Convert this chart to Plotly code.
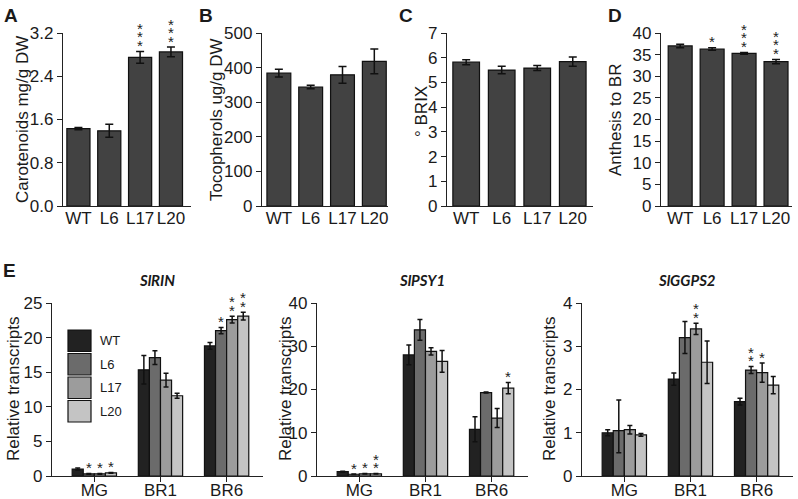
import plotly.graph_objects as go

W, H = 798, 499
FONT = "Liberation Sans, Arial, sans-serif"

lines = ["WT", "L6", "L17", "L20"]
stages = ["MG", "BR1", "BR6"]

# panels A-D (one bar per line)
carotenoids = [1.43, 1.39, 2.75, 2.85]
carotenoids_err = [0.02, 0.12, 0.11, 0.09]
carotenoids_stars = [0, 0, 3, 3]

tocopherols = [384, 344, 379, 418]
tocopherols_err = [11, 5, 24, 36]
tocopherols_stars = [0, 0, 0, 0]

brix = [5.82, 5.50, 5.58, 5.84]
brix_err = [0.10, 0.15, 0.10, 0.19]
brix_stars = [0, 0, 0, 0]

anthesis = [37.0, 36.3, 35.3, 33.4]
anthesis_err = [0.4, 0.3, 0.2, 0.5]
anthesis_stars = [0, 1, 3, 3]

# panel E, one row per line (WT, L6, L17, L20), columns MG, BR1, BR6
rin_vals = [[1.0, 15.35, 18.8], [0.3, 17.1, 21.0], [0.3, 13.85, 22.6], [0.45, 11.6, 23.1]]
rin_err = [[0.15, 2.05, 0.5], [0.05, 1.0, 0.45], [0.05, 1.0, 0.5], [0.05, 0.35, 0.55]]
rin_stars = [[0, 0, 0], [1, 0, 1], [1, 0, 2], [1, 0, 2]]

psy_vals = [[1.0, 28.0, 10.8], [0.4, 33.8, 19.3], [0.5, 28.8, 13.4], [0.5, 26.5, 20.3]]
psy_err = [[0.1, 2.3, 2.9], [0.05, 2.4, 0.1], [0.05, 0.85, 2.2], [0.05, 2.5, 1.3]]
psy_stars = [[0, 0, 0], [1, 0, 0], [1, 0, 0], [2, 0, 1]]

ggps_vals = [[1.0, 2.24, 1.72], [1.05, 3.2, 2.45], [1.07, 3.4, 2.39], [0.95, 2.63, 2.1]]
ggps_err = [[0.07, 0.14, 0.08], [0.71, 0.37, 0.08], [0.1, 0.13, 0.22], [0.03, 0.49, 0.2]]
ggps_err_low = [[0.07, 0.14, 0.08], [0.51, 0.37, 0.08], [0.1, 0.13, 0.22], [0.03, 0.49, 0.2]]
ggps_stars = [[0, 0, 0], [0, 0, 2], [0, 2, 1], [0, 0, 0]]

bar_dark = "#424242"
line_colors = ["#222222", "#6b6b6b", "#9c9c9c", "#c4c4c4"]
E_GAP = 0.33


def px_x(p):
    return p / W


def px_y(p):
    return 1 - p / H


fig = go.Figure()
annotations = []
shapes = []


def paper_text(x, y, text, size=17, angle=0, xanchor="center", yanchor="middle", family=FONT):
    annotations.append(dict(
        x=px_x(x), y=px_y(y), xref="paper", yref="paper", text=text, textangle=angle,
        xanchor=xanchor, yanchor=yanchor, showarrow=False,
        font=dict(family=family, size=size, color="#1a1a1a")))


def add_axes(n, x0, x1, y0, y1, yrange, dtick, xrange, xticks):
    sx = "" if n == 1 else str(n)
    fig.layout["xaxis" + sx] = dict(
        domain=[px_x(x0), px_x(x1)], anchor="y" + sx, range=xrange,
        tickvals=list(range(len(xticks))), ticktext=xticks,
        showline=True, linecolor="#222", linewidth=1.3,
        ticks="outside" if n > 4 else "", ticklen=5, tickcolor="#222",
        ticklabelstandoff=-7 if n > 4 else -4,
        tickfont=dict(family=FONT, size=17, color="#1a1a1a"),
        showgrid=False, zeroline=False, fixedrange=True, automargin=False)
    fig.layout["yaxis" + sx] = dict(
        domain=[px_y(y1), px_y(y0)], anchor="x" + sx, range=yrange, dtick=dtick,
        showline=True, linecolor="#222", linewidth=1.3,
        ticks="outside", ticklen=5, tickcolor="#222",
        tickfont=dict(family=FONT, size=17, color="#1a1a1a"),
        showgrid=False, zeroline=False, fixedrange=True, automargin=False)


def star_notes(n, xs, tops, counts):
    sx = "" if n == 1 else str(n)
    for x, top, c in zip(xs, tops, counts):
        for k in range(c):
            annotations.append(dict(
                x=x, y=top, xref="x" + sx, yref="y" + sx, text="*", showarrow=False,
                yanchor="middle", yshift=6 + 8.5 * k,
                font=dict(family=FONT, size=15, color="#222")))


def simple_panel(n, vals, err, stars, dom, yrange, dtick, xrange, ytitle, tx, ty, letter, lx):
    sx = "" if n == 1 else str(n)
    add_axes(n, *dom, yrange, dtick, xrange, lines)
    fig.add_trace(go.Bar(
        x=list(range(len(lines))), y=vals, width=0.75,
        marker=dict(color=bar_dark, line=dict(color="#111", width=1.2)),
        error_y=dict(type="data", array=err, color="#111", thickness=1.5, width=4),
        xaxis="x" + sx, yaxis="y" + sx, showlegend=False))
    tops = [v + e for v, e in zip(vals, err)]
    star_notes(n, range(len(lines)), tops, stars)
    paper_text(tx, ty, ytitle, angle=-90)
    paper_text(lx, 3, "<b>" + letter + "</b>", size=19, xanchor="left", yanchor="top")


def group_panel(n, vals, err, err_low, stars, dom, yrange, dtick, title, tx, title_x):
    sx = str(n)
    add_axes(n, *dom, yrange, dtick, [-0.64, 2.55], stages)
    bw = (1 - E_GAP) / len(lines)
    for i, name in enumerate(lines):
        fig.add_trace(go.Bar(
            x=list(range(len(stages))), y=vals[i], name=name,
            marker=dict(color=line_colors[i], line=dict(color="#111", width=1.2)),
            error_y=dict(type="data", array=err[i], arrayminus=err_low[i],
                         color="#111", thickness=1.5, width=2.5),
            xaxis="x" + sx, yaxis="y" + sx, showlegend=False))
        offset = -(1 - E_GAP) / 2 + bw * (i + 0.5)
        xs = [j + offset for j in range(len(stages))]
        tops = [v + e for v, e in zip(vals[i], err[i])]
        star_notes(n, xs, tops, stars[i])
    paper_text(tx, 389, "Relative transcripts", angle=-90)
    paper_text(title_x, 280, "<b><i>" + title + "</i></b>", size=15, family="Lato, sans-serif")


simple_panel(1, carotenoids, carotenoids_err, carotenoids_stars, (63, 191, 33, 206),
             [0, 3.2], 0.8, [-0.5, 3.65], "Carotenoids mg/g DW", 22, 120, "A", 2)
fig.layout.yaxis.tickformat = ".1f"
simple_panel(2, tocopherols, tocopherols_err, tocopherols_stars, (262, 388, 33, 206),
             [0, 500], 100, [-0.53, 3.43], "Tocopherols ug/g DW", 216, 120, "B", 197)
simple_panel(3, brix, brix_err, brix_stars, (447, 593, 33, 206),
             [0, 7], 1, [-0.54, 3.57], "° BRIX", 421, 112, "C", 397)
simple_panel(4, anthesis, anthesis_err, anthesis_stars, (661, 792, 33, 206),
             [0, 40], 5, [-0.6, 3.5], "Anthesis to BR", 615, 120, "D", 606)

group_panel(5, rin_vals, rin_err, rin_err, rin_stars, (52, 263, 303, 476),
            [0, 25], 5, "SlRIN", 13, 157)
group_panel(6, psy_vals, psy_err, psy_err, psy_stars, (317, 528, 303, 476),
            [0, 40], 10, "SlPSY1", 285, 422)
group_panel(7, ggps_vals, ggps_err, ggps_err_low, ggps_stars, (582, 793, 303, 476),
            [0, 4], 1, "SlGGPS2", 549, 687)

paper_text(1, 258, "<b>E</b>", size=19, xanchor="left", yanchor="top")

# legend drawn inside panel E (SlRIN)
box_h = 23.5
for i, name in enumerate(lines):
    top = 329 + box_h * i
    shapes.append(dict(
        type="rect", xref="paper", yref="paper",
        x0=px_x(68), x1=px_x(91), y0=px_y(top + box_h - 1), y1=px_y(top + 1),
        fillcolor=line_colors[i], line=dict(color="#111", width=1.2)))
    paper_text(98, top + box_h / 2, name, size=13, xanchor="left")

fig.update_layout(
    template="none",
    width=W, height=H, margin=dict(l=0, r=0, t=0, b=0),
    paper_bgcolor="white", plot_bgcolor="white",
    barmode="group", bargap=E_GAP, bargroupgap=0,
    annotations=annotations, shapes=shapes,
)

# drop the default page margin so the figure sits at the window's corner
fig.write_html("out.html", config={"displayModeBar": False},
               post_script="document.body.style.margin='0px';")
